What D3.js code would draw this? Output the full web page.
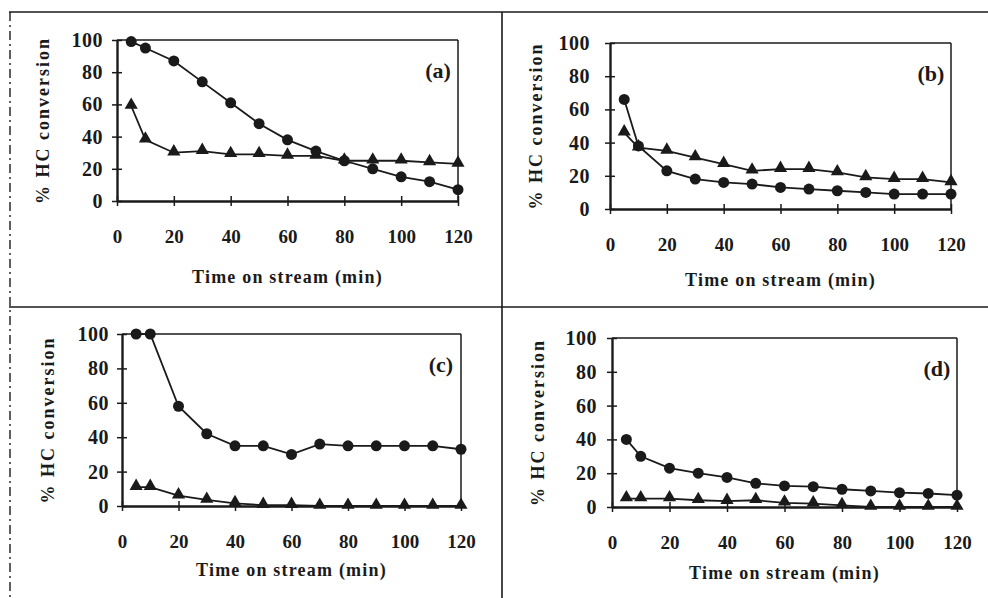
<!DOCTYPE html>
<html>
<head>
<meta charset="utf-8">
<script src="https://cdn.jsdelivr.net/npm/d3@7"></script>
<style>
  html, body { margin: 0; padding: 0; background: #ffffff; }
  svg { display: block; }
</style>
</head>
<body>
<svg id="chart" width="988" height="598"></svg>
<script>
// ---------- data ----------
const times = [5, 10, 20, 30, 40, 50, 60, 70, 80, 90, 100, 110, 120];
const xTicks = [0, 20, 40, 60, 80, 100, 120];
const yTicks = [0, 20, 40, 60, 80, 100];
const panelLabels = ["(a)", "(b)", "(c)", "(d)"];
const yAxisTitle = "% HC conversion";
const xAxisTitle = "Time on stream (min)";

const circlesA   = [99, 95, 87, 74, 61, 48, 38, 31, 25, 20, 15, 12, 7];
const trianglesA = [59, 38, 30, 31, 29, 29, 28, 28, 25, 25, 25, 24, 23];
const circlesB   = [66, 38, 23, 18, 16, 15, 13, 12, 11, 10, 9, 9, 9];
const trianglesB = [46, 37, 35, 31, 27, 23, 24, 24, 22, 19, 18, 18, 16];
const circlesC   = [100, 100, 58, 42, 35, 35, 30, 36, 35, 35, 35, 35, 33];
const trianglesC = [11, 11, 6, 3.5, 1.5, 0.5, 0.5, 0, 0, 0, 0, 0, 0];
const circlesD   = [40, 30, 23, 20, 17.5, 14, 12.5, 12, 10.5, 9.5, 8.5, 8, 7];
const trianglesD = [5, 5, 5, 4, 3.5, 4, 2.5, 2, 1, 0, 0, 0, 0];

const circleSeries = [circlesA, circlesB, circlesC, circlesD];
const triangleSeries = [trianglesA, trianglesB, trianglesC, trianglesD];

// ---------- layout ----------
const layouts = [
  { x0: 117, x1: 458, y0: 201, y1: 40,  tickPad: 9,  xTitleDy: 76 },
  { x0: 610, x1: 951, y0: 209, y1: 43,  tickPad: 15, xTitleDy: 71 },
  { x0: 122, x1: 461, y0: 506, y1: 334, tickPad: 8,  xTitleDy: 64 },
  { x0: 612, x1: 957, y0: 507, y1: 338, tickPad: 10, xTitleDy: 66 }
];

const ink = "#1a1a1a";
const serif = '"Liberation Serif", "DejaVu Serif", serif';
const svg = d3.select("#chart");

// outer frame lines (figure borders)
const frame = svg.append("g").attr("stroke", ink).attr("fill", "none");
frame.append("line").attr("x1", 9).attr("x2", 988).attr("y1", 12).attr("y2", 12).attr("stroke-width", 1.6);
frame.append("line").attr("x1", 9).attr("x2", 988).attr("y1", 307).attr("y2", 307).attr("stroke-width", 1.6);
frame.append("line").attr("x1", 502).attr("x2", 502).attr("y1", 12).attr("y2", 598).attr("stroke-width", 1.6);
frame.append("line").attr("x1", 10).attr("x2", 10).attr("y1", 12).attr("y2", 598)
  .attr("stroke-width", 1.4).attr("stroke-dasharray", "9,4,2,4");

const circleSym = d3.symbol().type(d3.symbolCircle).size(95);
const triSym = d3.symbol().type(d3.symbolTriangle).size(75);

layouts.forEach((L, i) => {
  const x = d3.scaleLinear().domain([0, 120]).range([L.x0, L.x1]);
  const y = d3.scaleLinear().domain([0, 100]).range([L.y0, L.y1]);
  const g = svg.append("g");

  // plot-area border: top & right thinner
  g.append("line").attr("x1", x(0)).attr("x2", x(120)).attr("y1", y(100)).attr("y2", y(100))
    .attr("stroke", ink).attr("stroke-width", 1.5);
  g.append("line").attr("x1", x(120)).attr("x2", x(120)).attr("y1", y(100)).attr("y2", y(0))
    .attr("stroke", ink).attr("stroke-width", 1.5);

  // y axis (cross ticks)
  const yAxis = g.append("g").attr("transform", `translate(${x(0)},0)`)
    .call(d3.axisLeft(y).tickValues(yTicks).tickSizeInner(5).tickSizeOuter(0).tickPadding(L.tickPad));
  yAxis.select(".domain").attr("stroke", ink).attr("stroke-width", 2.4);
  yAxis.selectAll(".tick line").attr("x1", 5).attr("x2", -5).attr("stroke", ink).attr("stroke-width", 1.5);
  yAxis.selectAll(".tick text").style("font-size", "20px").style("font-family", serif)
    .style("font-weight", "600").style("letter-spacing", "0.5px").attr("fill", ink);

  // x axis (cross ticks)
  const xAxis = g.append("g").attr("transform", `translate(0,${y(0)})`)
    .call(d3.axisBottom(x).tickValues(xTicks).tickSizeInner(5).tickSizeOuter(0).tickPadding(24));
  xAxis.select(".domain").attr("stroke", ink).attr("stroke-width", 2.4);
  xAxis.selectAll(".tick line").attr("y1", -5).attr("y2", 5).attr("stroke", ink).attr("stroke-width", 1.5);
  xAxis.selectAll(".tick text").style("font-size", "19px").style("font-family", serif)
    .style("font-weight", "600").attr("fill", ink);

  // titles
  g.append("text")
    .attr("transform", `translate(${x(0) - 74},${(y(0) + y(100)) / 2}) rotate(-90)`)
    .attr("text-anchor", "middle").attr("dominant-baseline", "central")
    .style("font-family", serif).style("font-size", "18px").style("font-weight", "bold")
    .style("letter-spacing", "2px").attr("fill", ink)
    .text(yAxisTitle);
  g.append("text")
    .attr("x", (x(0) + x(120)) / 2).attr("y", y(0) + L.xTitleDy)
    .attr("text-anchor", "middle").attr("dominant-baseline", "central")
    .style("font-family", serif).style("font-size", "18px").style("font-weight", "bold")
    .style("letter-spacing", "1.2px").attr("fill", ink)
    .text(xAxisTitle);
  g.append("text")
    .attr("x", x(120) - 20).attr("y", y(100) + 30)
    .attr("text-anchor", "middle").attr("dominant-baseline", "central")
    .style("font-family", serif).style("font-size", "22px").style("font-weight", "bold")
    .attr("fill", ink)
    .text(panelLabels[i]);

  // series
  const line = d3.line().x((d, k) => x(times[k])).y(d => y(d));
  [triangleSeries[i], circleSeries[i]].forEach((vals, s) => {
    g.append("path").datum(vals).attr("d", line)
      .attr("fill", "none").attr("stroke", ink).attr("stroke-width", 1.8);
    g.selectAll(null).data(vals).enter().append("path")
      .attr("transform", (d, k) => `translate(${x(times[k])},${y(d) + (s === 0 ? -1 : 0)})`)
      .attr("d", s === 0 ? triSym : circleSym)
      .attr("fill", ink);
  });
});
</script>
</body>
</html>
